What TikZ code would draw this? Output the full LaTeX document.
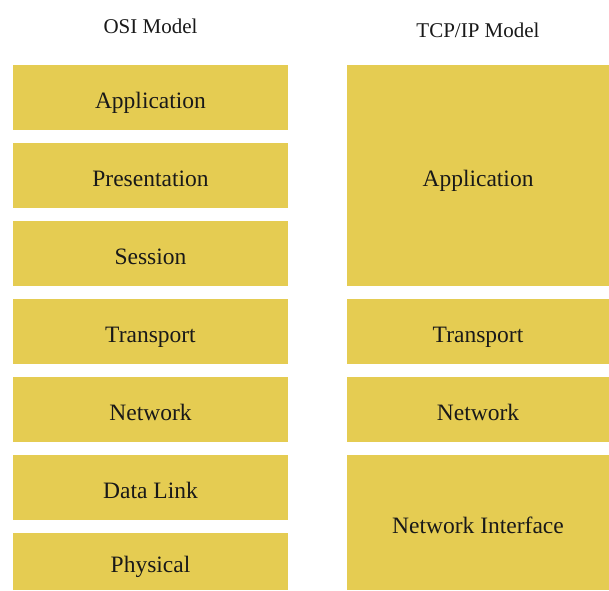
\documentclass[tikz,border=0pt]{standalone}
\usepackage{fontspec}
\setmainfont{Liberation Serif}
\usetikzlibrary{positioning}
\definecolor{layeryellow}{RGB}{229,204,82}
\tikzset{
	layer/.style={
		rectangle,
		fill=layeryellow,
		align=center,
		inner sep=0pt,
		outer sep=0pt,
		minimum height=32.5pt,
		text height=10.5pt,
		text depth=0pt,
		text=black!90,
		font=\fontsize{11.75pt}{14pt}\selectfont
	},
	osi/.style={layer, minimum width=137.5pt},
	tcpip/.style={layer, minimum width=131pt},
	heading/.style={
		anchor=base,
		inner sep=0pt,
		text=black!90,
		font=\fontsize{10.5pt}{12pt}\selectfont
	}
}

\begin{document}
\begin{tikzpicture}[node distance=6.5pt]
	\useasboundingbox (0,0) rectangle (304.5pt,-295pt);
	\clip (0,0) rectangle (304.5pt,-295pt);
	
	% OSI column
	\node[osi, anchor=north] (OSIApp) at (75.25pt,-32.5pt) {Application};
	\node[osi, below=of OSIApp] (OSIPres) {Presentation};
	\node[osi, below=of OSIPres] (OSISess) {Session};
	\node[osi, below=of OSISess] (OSITrans) {Transport};
	\node[osi, below=of OSITrans] (OSINet) {Network};
	\node[osi, below=of OSINet] (OSIData) {Data Link};
	\node[osi, below=of OSIData, minimum height=28.5pt] (OSIPhys) {Physical};
	
	% TCP/IP column
	\node[tcpip, anchor=north, minimum height=110.5pt] (TCPApp) at (239pt,-32.5pt) {Application};
	\node[tcpip, below=of TCPApp] (TCPTrans) {Transport};
	\node[tcpip, below=of TCPTrans] (TCPNet) {Network};
	\node[tcpip, below=of TCPNet, minimum height=67.5pt] (TCPIface) {Network Interface};
	
	% headings
	\node[heading] (OSITitle) at (75.25pt,-16.5pt) {OSI Model};
	\node[heading] (TCPTitle) at (239pt,-18.5pt) {TCP/IP Model};
\end{tikzpicture}
\end{document}
